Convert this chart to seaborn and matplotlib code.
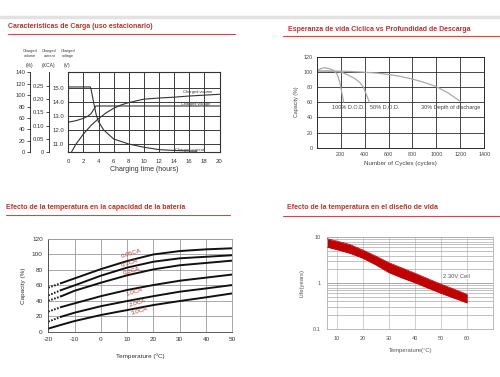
import numpy as np
import pandas as pd
import matplotlib
matplotlib.use("Agg")
import matplotlib.pyplot as plt
import seaborn as sns
from matplotlib.lines import Line2D
from matplotlib.ticker import LogLocator, NullFormatter

# ---- Caracteristicas de Carga ----
volume_hours = [0.4, 1, 2, 3, 4, 5, 6, 7, 8, 10, 12, 14, 16, 18, 20]
volume_pct = [0, 14, 32, 47, 59, 69, 77, 83, 87, 93, 95, 96.5, 98.5, 100, 101.5]
current_hours = [0, 2.9, 3.03, 3.33, 3.7, 4, 4.67, 6, 8, 10, 12, 14, 17]
current_ca = [0.245, 0.245, 0.234, 0.19, 0.14, 0.115, 0.084, 0.05, 0.031, 0.019, 0.010, 0.007, 0.004]
voltage_hours = [0, 1, 2, 2.5, 3, 3.3, 3.65, 20]
voltage_v = [12.55, 12.65, 12.82, 12.95, 13.15, 13.4, 13.7, 13.7]

# ---- Esperanza de vida ciclica ----
dod100_cycles = [0, 30, 65, 100, 140, 170, 190, 205, 215, 225]
dod100_cap = [101, 104, 105.5, 104.5, 102, 97, 88, 77, 68, 60]
dod50_cycles = [0, 100, 200, 260, 320, 360, 390, 415, 440]
dod50_cap = [101, 101, 100, 96, 91, 86, 80, 70, 60]
dod30_cycles = [0, 200, 350, 500, 600, 700, 800, 900, 1000, 1100, 1200]
dod30_cap = [101, 101, 100, 98.5, 96.5, 94, 90.5, 86, 80.5, 72, 61]

# ---- Efecto de la temperatura en la capacidad ----
cap_temps = [-20, -15, -10, 0, 10, 20, 30, 40, 50]
cap_labels = ["0.05CA", "0.1CA", "0.2CA", "1.0CA", "2.0CA", "3.0CA"]
cap_005 = [57, 63, 69, 81, 91.5, 100, 104.4, 106.6, 108]
cap_01 = [47, 54, 60, 72.5, 83, 90.6, 95, 97, 99]
cap_02 = [40, 46, 53, 63.4, 73, 80.7, 86, 89, 92]
cap_10 = [26, 32, 36.7, 46, 54, 60.4, 66, 70, 74]
cap_20 = [13, 19.5, 24.6, 33, 39.7, 46, 51.8, 56, 60.4]
cap_30 = [4, 9, 13.8, 21.6, 28, 34.5, 39.7, 44.5, 49.6]
cap_series = [cap_005, cap_01, cap_02, cap_10, cap_20, cap_30]
label_pos = [(11.4, 100.6), (11, 88.5), (11.7, 78.5), (12.7, 51.8), (13.9, 36.7), (14.6, 27.2)]

# ---- Efecto de la temperatura en el diseno de vida ----
life_temps = [6.4, 10, 15, 20, 25, 30, 35, 40, 45, 50, 55, 60]
life_upper = [9.3, 8.3, 7.0, 5.3, 3.9, 2.8, 2.15, 1.65, 1.25, 0.95, 0.74, 0.57]
life_lower = [6.1, 5.4, 4.5, 3.5, 2.5, 1.7, 1.3, 1.02, 0.78, 0.6, 0.47, 0.37]

W, H = 500, 377
RED = "#b3352d"


def box(x0, y0, x1, y1):
    return [x0 / W, 1 - y1 / H, (x1 - x0) / W, (y1 - y0) / H]


def header(fig, x, y, x0, x1, yline, text):
    fig.text(x / W, 1 - y / H, text, fontsize=5.0, color=RED, fontweight="bold",
             family=["Liberation Sans Narrow", "Liberation Sans", "DejaVu Sans"],
             ha="left", va="center")
    fig.add_artist(Line2D([x0 / W, x1 / W], [1 - yline / H] * 2, color="#c0504d", lw=0.8))


sns.set_theme(style="white")
plt.rcParams["font.family"] = ["Liberation Sans", "DejaVu Sans"]
plt.rcParams["axes.unicode_minus"] = False

fig = plt.figure(figsize=(5, 3.77), dpi=100)
fig.add_artist(Line2D([0, 1], [1 - 17 / H] * 2, color="#e2e2e2", lw=2.5))

header(fig, 8.3, 26.7, 8, 235, 34.3, "Caracteristicas de Carga (uso estacionario)")
header(fig, 288.3, 29.3, 283, 500, 35.7, "Esperanza de vida Ciclica vs Profundidad de Descarga")
header(fig, 6, 207.3, 6, 230, 215, "Efecto de la temperatura en la capacidad de la batería")
header(fig, 286.7, 207.3, 283, 500, 215.7, "Efecto de la temperatura en el diseño de vida")

# ---------- panel 1 ----------
ax1 = fig.add_axes(box(68.3, 72.3, 219.5, 152.3))
sns.lineplot(x=voltage_hours, y=voltage_v, ax=ax1, color="#333", lw=0.8)
ax1.set_xlim(0, 20)
ax1.set_ylim(10.4, 16.1)
ax1.set_xticks(range(0, 21, 2))
ax1.set_yticks([11, 12, 13, 14, 15])
ax1.set_yticklabels(["11.0", "12.0", "13.0", "14.0", "15.0"])
ax1.grid(True, color="#3a3a3a", lw=0.7)
for sp in ax1.spines.values():
    sp.set_color("#333")
    sp.set_linewidth(0.8)
ax1.tick_params(length=0, labelsize=4.3, pad=3, colors="#333")
ax1.tick_params(axis="x", pad=5)
ax1.set_xlabel("Charging time (hours)", fontsize=5, color="#333", labelpad=1.5)
ax1.set_ylabel("")

ax_pct = ax1.twinx()
sns.lineplot(x=volume_hours, y=volume_pct, ax=ax_pct, color="#333", lw=0.8)
ax_pct.set_ylim(0, 140)
ax_pct.set_yticks(range(0, 141, 20))
ax_cur = ax1.twinx()
sns.lineplot(x=current_hours, y=current_ca, ax=ax_cur, color="#333", lw=0.8)
ax_cur.set_ylim(0, 0.30)
ax_cur.set_yticks([0, 0.05, 0.10, 0.15, 0.20, 0.25])
ax_cur.set_yticklabels(["0", "0.05", "0.10", "0.15", "0.20", "0.25"])
for tw, off in [(ax_pct, -0.253), (ax_cur, -0.128)]:
    tw.spines["left"].set_position(("axes", off))
    tw.spines["left"].set_color("#333")
    tw.spines["left"].set_linewidth(0.7)
    for s in ["right", "top", "bottom"]:
        tw.spines[s].set_visible(False)
    tw.yaxis.set_ticks_position("left")
    tw.yaxis.set_label_position("left")
    tw.tick_params(axis="y", length=2, width=0.6, labelsize=4.2, pad=1.5, colors="#333")
    tw.set_ylabel("")
    tw.set_xlim(0, 20)

ax1.text(17.1, 14.68, "Charged volume", fontsize=2.9, ha="center", va="center", color="#333")
ax1.text(16.9, 13.86, "Charged voltage", fontsize=2.9, ha="center", va="center", color="#333")
ax1.text(16.1, 10.58, "Charged current", fontsize=2.9, ha="center", va="center", color="#333")
for cx, t in [(30, "Charged\nvolume"), (49.5, "Charged\ncurrent"), (68.5, "Charged\nvoltage")]:
    fig.text(cx / W, 1 - 53.5 / H, t, fontsize=2.7, ha="center", va="center", linespacing=1.1, color="#333")
for cx, t in [(30, "(%)"), (49, "(XCA)"), (67, "(V)")]:
    fig.text(cx / W, 1 - 65.5 / H, t, fontsize=3.6, ha="center", va="center", color="#333")

# ---------- panel 2 ----------
ax2 = fig.add_axes(box(316.7, 56.7, 484.3, 147.7))
for cyc, cap in [(dod100_cycles, dod100_cap), (dod50_cycles, dod50_cap), (dod30_cycles, dod30_cap)]:
    sns.lineplot(x=cyc, y=cap, ax=ax2, color="#a9a9a9", lw=0.9)
ax2.set_xlim(0, 1400)
ax2.set_ylim(0, 120)
ax2.set_xticks(range(200, 1401, 200))
ax2.set_yticks(range(0, 121, 20))
ax2.grid(True, color="#2a2a2a", lw=0.6)
for sp in ax2.spines.values():
    sp.set_color("#2a2a2a")
    sp.set_linewidth(0.7)
ax2.tick_params(length=0, labelsize=3.9, pad=3, colors="#444")
ax2.set_xlabel("Number of Cycles (cycles)", fontsize=4.5, color="#444", labelpad=3)
ax2.set_ylabel("Capacity (%)", fontsize=3.8, color="#444", labelpad=3)
for x, t in [(125, "100% D.O.D."), (445, "50% D.O.D."), (869, "30% Depth of discharge")]:
    ax2.text(x, 53.5, t, fontsize=4, ha="left", va="center", color="#444")

# ---------- panel 3 ----------
ax3 = fig.add_axes(box(48.3, 239, 232.3, 331.7))
for i, vals in enumerate(cap_series):
    if i < 5:
        sns.lineplot(x=cap_temps[:2], y=vals[:2], ax=ax3, color="#111", lw=1.4, linestyle=(0, (0.8, 0.8)))
        sns.lineplot(x=cap_temps[1:], y=vals[1:], ax=ax3, color="#111", lw=1.4)
    else:
        sns.lineplot(x=cap_temps, y=vals, ax=ax3, color="#111", lw=1.4)
for (lx, ly), t in zip(label_pos, cap_labels):
    ax3.text(lx, ly, t, fontsize=4.5, color="#b8403a", rotation=17, ha="center", va="center",
             rotation_mode="anchor")
ax3.set_xlim(-20, 50)
ax3.set_ylim(0, 120)
ax3.set_xticks(range(-20, 51, 10))
ax3.set_yticks(range(0, 121, 20))
ax3.grid(True, color="#9a9a9a", lw=0.6)
for sp in ax3.spines.values():
    sp.set_color("#9a9a9a")
    sp.set_linewidth(0.6)
ax3.spines["left"].set_color("#444")
ax3.spines["bottom"].set_color("#444")
ax3.tick_params(length=0, labelsize=4.6, pad=4, colors="#333")
ax3.set_xlabel("Temperature (ºC)", fontsize=4.6, color="#333", labelpad=8)
ax3.set_ylabel("Capacity (%)", fontsize=4.6, color="#333", labelpad=4)

# ---------- panel 4 ----------
ax4 = fig.add_axes(box(327.3, 237.3, 493.3, 329))
ax4.set_yscale("log")
ax4.fill_between(life_temps, life_lower, life_upper, color="#c00000", lw=0, zorder=3)
sns.lineplot(x=life_temps, y=life_upper, ax=ax4, color="#c00000", lw=0.5, zorder=3)
sns.lineplot(x=life_temps, y=life_lower, ax=ax4, color="#c00000", lw=0.5, zorder=3)
ax4.set_xlim(6.4, 70)
ax4.set_ylim(0.1, 10)
ax4.set_xticks(range(10, 61, 10))
ax4.set_yticks([0.1, 1, 10])
ax4.set_yticklabels(["0.1", "1", "10"])
ax4.yaxis.set_minor_locator(LogLocator(base=10, subs=np.arange(2, 10)))
ax4.yaxis.set_minor_formatter(NullFormatter())
ax4.grid(True, which="major", axis="y", color="#9a9a9a", lw=0.6)
ax4.grid(True, which="minor", axis="y", color="#a8a8a8", lw=0.5)
ax4.grid(True, which="major", axis="x", color="#c8c8c8", lw=0.6)
for sp in ax4.spines.values():
    sp.set_color("#b0b0b0")
    sp.set_linewidth(0.6)
ax4.tick_params(which="both", length=0, labelsize=4, pad=5, colors="#555")
ax4.set_xlabel("Temperature(°C)", fontsize=4.2, color="#555", labelpad=5)
ax4.set_ylabel("Life(years)", fontsize=4.2, color="#555", labelpad=6)
ax4.text(50.8, 1.43, "2.30V Cell", fontsize=4.2, color="#555", ha="left", va="center", zorder=4,
         bbox=dict(facecolor="white", edgecolor="none", pad=0.5))

fig.savefig("out.png", dpi=100)
